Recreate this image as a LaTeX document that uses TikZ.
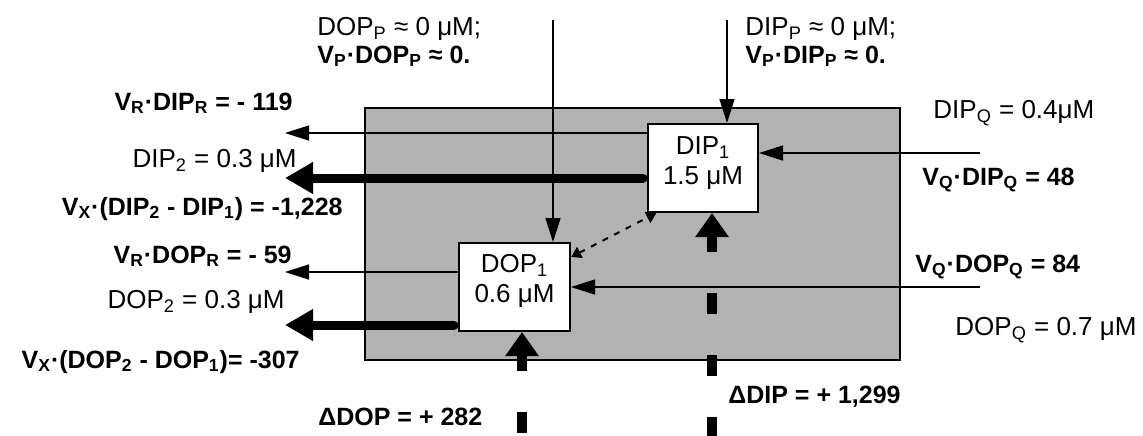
\documentclass[tikz,border=0pt]{standalone}
\usepackage{fontspec}
\setmainfont{Liberation Sans}
\usetikzlibrary{arrows.meta,positioning}
\newcommand{\sbs}[1]{\textsubscript{#1}}
\newcommand{\plain}{\fontsize{13}{15}\selectfont}

\begin{document}
\begin{tikzpicture}[x=0.5pt, y=-0.5pt,
    every node/.style={font=\fontsize{12.5}{14}\selectfont, inner sep=0pt},
    conc/.style={font=\plain},
    pool/.style={draw, fill=white, line width=1pt, minimum width=55pt, minimum height=44pt},
    flow/.style={line width=0.7pt, -{Triangle[length=12pt,width=7.5pt]}},
    bigflow/.style={line width=4.5pt, line cap=round, -{Triangle[length=14pt,width=15pt]}},
    supply/.style={line width=5pt, dash pattern=on 10.5pt off 20.5pt, -{Triangle[length=12pt,width=16pt]}},
    exch/.style={line width=1pt, dash pattern=on 3pt off 3.5pt, {Triangle[length=5pt,width=6pt]}-{Triangle[length=5pt,width=6pt]}}]
    \useasboundingbox (0,0) rectangle (1143,435);
    % water body
    \filldraw[fill=gray!60, line width=1.2pt] (365,108) rectangle (900,360);
    % pools
    \node[pool] (DIP1) at (703,168) {};
    \node[pool, minimum width=55.5pt] (DOP1) at (514.5,287) {};
    \node[conc, anchor=base, align=center] (DIP1txt) at ([yshift=-30.5pt]DIP1.north) {DIP\sbs{1}\\1.5 μM};
    \node[conc, anchor=base, align=center] (DOP1txt) at ([yshift=-30pt]DOP1.north) {DOP\sbs{1}\\0.6 μM};
    % free ends
    \coordinate (dopP) at (553,20);
    \coordinate (dipP) at (727,20);
    \coordinate (dipR) at (285,133);
    \coordinate (dipX) at (285,178);
    \coordinate (dipQ) at (980,153);
    \coordinate (dopR) at (285,272);
    \coordinate (dopX) at (285,325);
    \coordinate (dopQ) at (980,287);
    \coordinate (dopS) at (522,433);
    \coordinate (dipS) at (712,438);
    % fluxes
    \draw[flow] (dopP) -- (dopP |- DOP1.north);
    \draw[flow] (dipP) -- (dipP |- DIP1.north);
    \draw[flow] (dipR -| DIP1.west) -- (dipR);
    \draw[flow] (dipQ) -- (dipQ -| DIP1.east);
    \draw[flow] (dopR -| DOP1.west) -- (dopR);
    \draw[flow] (dopQ) -- (DOP1.east);
    \draw[bigflow, shorten <=2pt] (dipX -| DIP1.west) -- (dipX);
    \draw[bigflow, shorten <=2pt] (dopX -| DOP1.west) -- (dopX);
    \draw[supply] (dopS) -- (dopS |- DOP1.south);
    \draw[supply] (dipS) -- (dipS |- DIP1.south);
    \draw[exch] (DOP1.28) -- (DIP1.224);
    % labels
    \node[anchor=base west, align=left] (dopPtxt) at (317,63) {{\plain DOP\sbs{P} ≈ 0 μM;}\\\textbf{V\sbs{P}·DOP\sbs{P} ≈ 0.}};
    \node[anchor=base west, align=left] (dipPtxt) at (745,63) {{\plain DIP\sbs{P} ≈ 0 μM;}\\\textbf{V\sbs{P}·DIP\sbs{P} ≈ 0.}};
    \node[anchor=base east] (vrdip) at (293,110) {\textbf{V\sbs{R}·DIP\sbs{R} = - 119}};
    \node[conc, anchor=base east] (dip2) at (297,167) {DIP\sbs{2} = 0.3 μM};
    \node[anchor=base east] (vxdip) at (343,215) {\textbf{V\sbs{X}·(DIP\sbs{2} - DIP\sbs{1}) = -1,228}};
    \node[anchor=base east] (vrdop) at (292,263) {\textbf{V\sbs{R}·DOP\sbs{R} = - 59}};
    \node[conc, anchor=base east] (dop2) at (285,308) {DOP\sbs{2} = 0.3 μM};
    \node[anchor=base east] (vxdop) at (300,368) {\textbf{V\sbs{X}·(DOP\sbs{2} - DOP\sbs{1})= -307}};
    \node[anchor=base west] (ddop) at (318,425) {\textbf{ΔDOP = + 282}};
    \node[anchor=base west] (ddip) at (728,403) {\textbf{ΔDIP = + 1,299}};
    \node[conc, anchor=base west] (dipQtxt) at (933,118) {DIP\sbs{Q} = 0.4μM};
    \node[anchor=base west] (vqdip) at (922,185) {\textbf{V\sbs{Q}·DIP\sbs{Q} = 48}};
    \node[anchor=base west] (vqdop) at (915,272) {\textbf{V\sbs{Q}·DOP\sbs{Q} = 84}};
    \node[conc, anchor=base west] (dopQtxt) at (955,335) {DOP\sbs{Q} = 0.7 μM};
\end{tikzpicture}
\end{document}
